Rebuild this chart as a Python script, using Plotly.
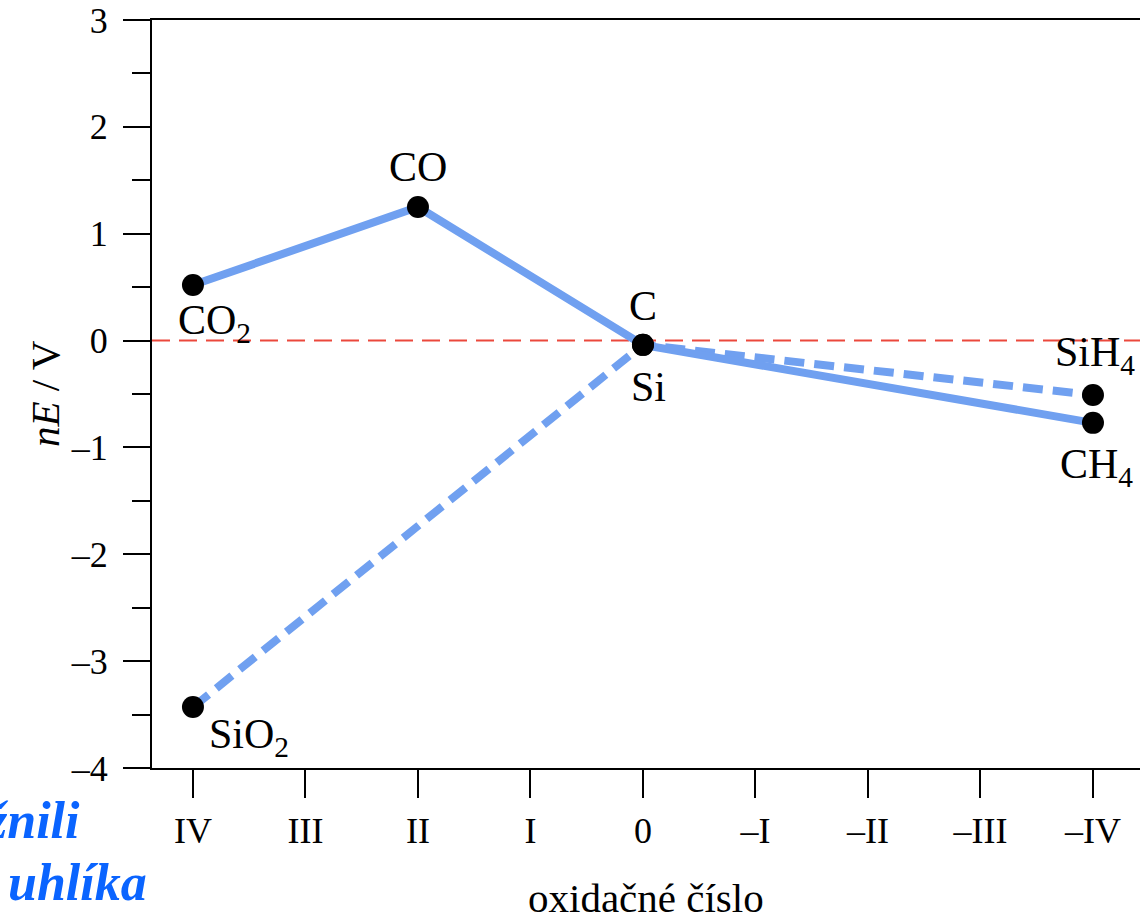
import plotly.graph_objects as go

# Data
ox_values = [4, 3, 2, 1, 0, -1, -2, -3, -4]
ox_labels = ["IV", "III", "II", "I", "0", "–I", "–II", "–III", "–IV"]
y_ticks = [3, 2, 1, 0, -1, -2, -3, -4]
y_tick_labels = ["3", "2", "1", "0", "–1", "–2", "–3", "–4"]

carbon_ox = [4, 2, 0, -4]
carbon_nE = [0.52, 1.25, -0.04, -0.77]
carbon_names = ["CO<sub>2</sub>", "CO", "C", "CH<sub>4</sub>"]

silicon_ox = [4, 0, -4]
silicon_nE = [-3.43, -0.04, -0.51]
silicon_names = ["SiO<sub>2</sub>", "Si", "SiH<sub>4</sub>"]

FONT = "Liberation Serif, Times New Roman, serif"
LINE_BLUE = "rgb(112,160,240)"

fig = go.Figure()

fig.add_trace(go.Scatter(
    x=silicon_ox, y=silicon_nE, mode="lines",
    line=dict(color=LINE_BLUE, width=8, dash="20px,10px"),
    hoverinfo="skip", showlegend=False))
fig.add_trace(go.Scatter(
    x=carbon_ox, y=carbon_nE, mode="lines",
    line=dict(color=LINE_BLUE, width=8),
    hoverinfo="skip", showlegend=False))
fig.add_trace(go.Scatter(
    x=carbon_ox + silicon_ox, y=carbon_nE + silicon_nE, mode="markers",
    marker=dict(color="black", size=22),
    cliponaxis=False, showlegend=False))

# zero reference line
fig.add_shape(type="line", xref="paper", yref="y", x0=0, x1=1, y0=0, y1=0,
              line=dict(color="rgb(235,72,60)", width=2, dash="18px,9px"),
              layer="below")

# point labels (offsets in pixels)
label_offsets = {
    "CO<sub>2</sub>": (22, -38),
    "CO": (0, 40),
    "C": (0, 39),
    "CH<sub>4</sub>": (4, -44),
    "SiO<sub>2</sub>": (56, -30),
    "Si": (6, -42),
    "SiH<sub>4</sub>": (2, 40),
}
for xs, ys, names in [(carbon_ox, carbon_nE, carbon_names),
                      (silicon_ox, silicon_nE, silicon_names)]:
    for xv, yv, nm in zip(xs, ys, names):
        dx, dy = label_offsets[nm]
        fig.add_annotation(x=xv, y=yv, text=nm, showarrow=False,
                           xshift=dx, yshift=dy,
                           font=dict(family=FONT, size=42, color="black"))

# axis titles
fig.add_annotation(xref="paper", yref="paper", x=0.5, y=0, yshift=-130,
                   text="oxidačné číslo", showarrow=False,
                   font=dict(family=FONT, size=41, color="black"),
                   xanchor="center", yanchor="middle")
fig.add_annotation(xref="paper", yref="paper", x=0, xshift=-107, y=0.5,
                   text="<i>nE</i> / V", showarrow=False, textangle=-90,
                   font=dict(family=FONT, size=41, color="black"),
                   xanchor="center", yanchor="middle")

# clipped slide text at bottom left
blue_font = dict(family=FONT, size=52, color="rgb(10,100,255)")
fig.add_annotation(xref="paper", yref="paper", x=0, xshift=-70, y=0, yshift=-52,
                   text="<b><i>žnili</i></b>", showarrow=False,
                   font=blue_font, xanchor="right", yanchor="middle")
fig.add_annotation(xref="paper", yref="paper", x=0, xshift=-3, y=0, yshift=-114,
                   text="<b><i>uhlíka</i></b>", showarrow=False,
                   font=blue_font, xanchor="right", yanchor="middle")

fig.update_xaxes(
    range=[4.364, -4.418], tickvals=ox_values, ticktext=ox_labels,
    ticks="outside", ticklen=28, tickwidth=2, tickcolor="black",
    showline=True, linecolor="black", linewidth=2, mirror=True,
    showgrid=False, zeroline=False, ticklabelstandoff=2,
    ticklabeloverflow="allow", automargin=False,
    tickfont=dict(family=FONT, size=36, color="black"))
fig.update_yaxes(
    range=[-4, 3], tickvals=y_ticks, ticktext=y_tick_labels,
    ticks="outside", ticklen=27, tickwidth=2, tickcolor="black",
    minor=dict(dtick=0.5, ticks="outside", ticklen=18, tickwidth=2,
               tickcolor="black", showgrid=False),
    showline=True, linecolor="black", linewidth=2,
    showgrid=False, zeroline=False, ticklabelstandoff=8,
    ticklabeloverflow="allow", automargin=False,
    tickfont=dict(family=FONT, size=36, color="black"))

fig.update_layout(
    width=1140, height=916,
    margin=dict(l=152, r=0, t=20, b=148),
    plot_bgcolor="white", paper_bgcolor="white",
    showlegend=False, hovermode=False)

# remove the default 8px page margin so the figure fills the window exactly
fig.write_html("out.html",
               config={"displayModeBar": False, "staticPlot": True},
               post_script="document.body.style.margin='0';"
                           "document.body.style.overflow='hidden';")
